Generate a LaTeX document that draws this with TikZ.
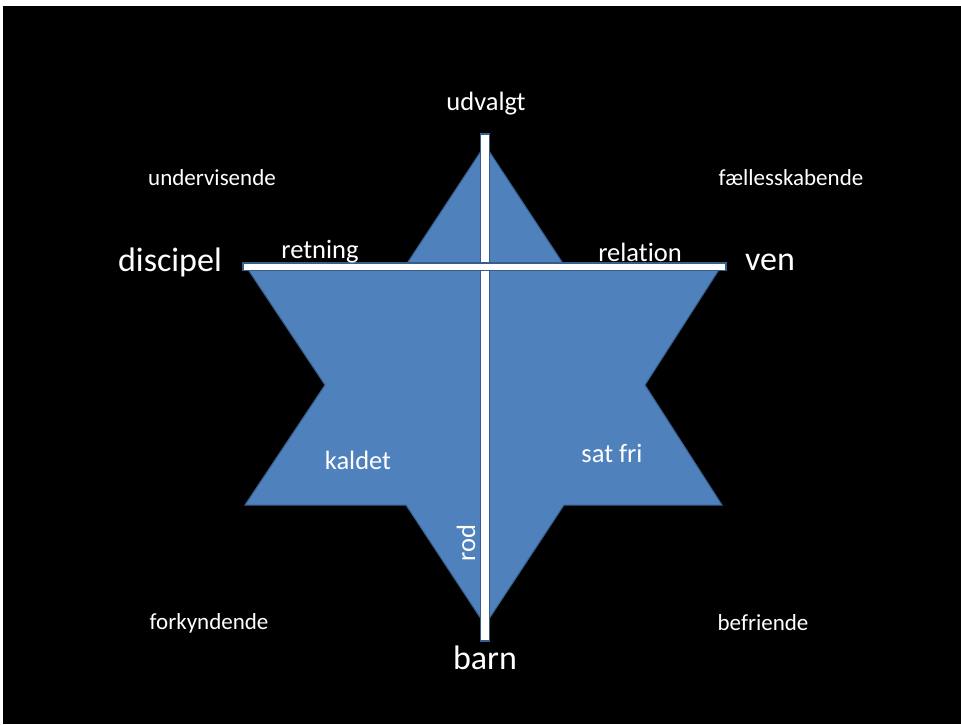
\documentclass[tikz,border=0pt]{standalone}
\usepackage{fontspec}
\setmainfont[RawFeature=-liga]{Carlito}
\usepackage{xcolor}
\usetikzlibrary{positioning}

\definecolor{starfill}{HTML}{4F81BD}
\definecolor{starline}{HTML}{385D8A}

\begin{document}
\begin{tikzpicture}[
  x=1pt, y=-1pt,
  lbl/.style={text=white, inner sep=0pt, font=\fontsize{#1}{#1}\selectfont},
  lbl/.default={23},
  bar/.style={draw=starline, fill=white, line width=1.2pt},
]
\useasboundingbox (0,0) rectangle (961,724);
\fill[white] (0,0) rectangle (961,724);
\fill[black] (3,6) rectangle (961,724);

% star
\draw[fill=starfill, draw=starline, line width=1pt]
  (485,145) -- (564,265) -- (722,265) -- (645,385) -- (722,505) -- (564,505)
  -- (485,625) -- (406,505) -- (245,505) -- (325,385) -- (245,265) -- (406,265) -- cycle;

% cross
\draw[bar] (480.5,134) rectangle (489.5,641);
\draw[bar] (243,263) rectangle (726,270.5);
\fill[white] (481.1,263.6) rectangle (488.9,269.9);

\node[lbl=26.5] (udvalgt) at (486,104) {udvalgt};
\node[lbl] (underv) at (212,178) {undervisende};
\node[lbl] (faelles) at (791,178) {fællesskabende};
\node[lbl=34] (discipel) at (170,262) {discipel};
\node[lbl=34] (ven) at (770,262) {ven};
\node[lbl=26.5] (retning) at (320,252) {retning};
\node[lbl=26.5] (relation) at (640,252) {relation};
\node[lbl=26.5] (kaldet) at (358,460) {kaldet};
\node[lbl=26.5] (satfri) at (612,453) {sat fri};
\node[lbl=26.5, rotate=90] (rod) at (466,543) {rod};
\node[lbl] (forkynd) at (209,623) {forkyndende};
\node[lbl] (befri) at (763,623) {befriende};
\node[lbl=34] (barn) at (485,658) {barn};
\end{tikzpicture}
\end{document}
